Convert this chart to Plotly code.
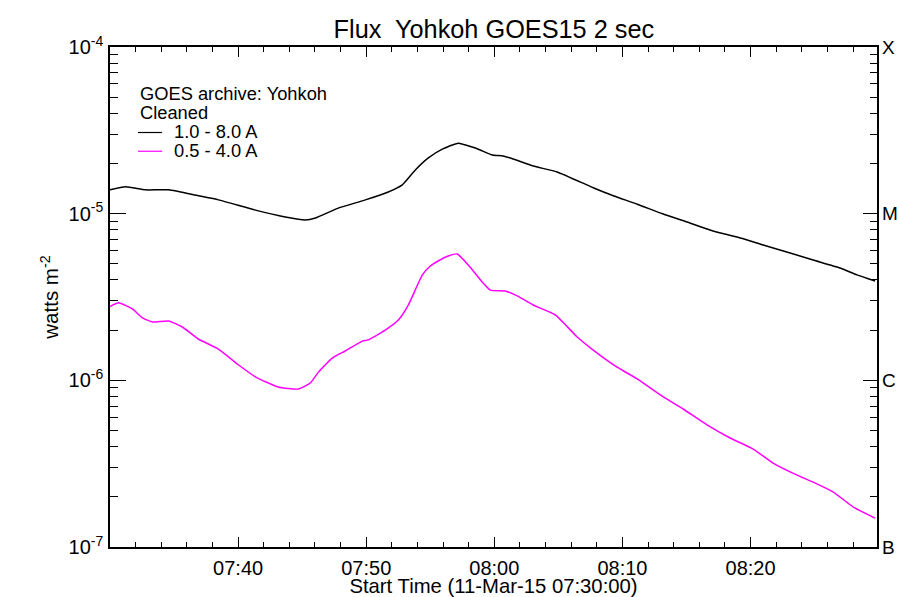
import plotly.graph_objects as go

DAY = "2015-03-11"

# 1.0 - 8.0 A channel (long wavelength)
long_time = ["07:30:00", "07:31:13", "07:32:46", "07:34:34", "07:36:54", "07:38:28",
             "07:41:21", "07:43:41", "07:45:15", "07:46:02", "07:47:49", "07:49:56",
             "07:51:43", "07:52:49", "07:53:50", "07:54:51", "07:55:56", "07:57:11",
             "07:58:17", "07:58:54", "07:59:50", "08:00:41", "08:01:28", "08:03:02",
             "08:04:54", "08:07:43", "08:09:17", "08:11:09", "08:13:11", "08:15:03",
             "08:17:04", "08:18:57", "08:20:59", "08:23:05", "08:24:53", "08:26:59",
             "08:28:18", "08:29:43"]
long_flux = [1.39e-5, 1.45e-5, 1.39e-5, 1.39e-5, 1.28e-5, 1.21e-5,
             1.05e-5, 9.55e-6, 9.16e-6, 9.42e-6, 1.08e-5, 1.21e-5,
             1.35e-5, 1.49e-5, 1.83e-5, 2.16e-5, 2.44e-5, 2.65e-5,
             2.51e-5, 2.41e-5, 2.25e-5, 2.22e-5, 2.13e-5, 1.93e-5,
             1.78e-5, 1.43e-5, 1.28e-5, 1.14e-5, 9.95e-6, 8.91e-6,
             7.87e-6, 7.24e-6, 6.49e-6, 5.81e-6, 5.27e-6, 4.72e-6,
             4.29e-6, 3.94e-6]

# 0.5 - 4.0 A channel (short wavelength)
short_time = ["07:30:00", "07:30:40", "07:31:45", "07:32:32", "07:33:19", "07:34:34",
              "07:35:39", "07:36:54", "07:38:28", "07:40:01", "07:41:21", "07:43:08",
              "07:44:42", "07:45:38", "07:46:16", "07:47:21", "07:48:22", "07:49:42",
              "07:50:10", "07:51:29", "07:52:30", "07:53:17", "07:54:23", "07:55:00",
              "07:55:37", "07:56:24", "07:57:06", "07:57:58", "07:59:03", "07:59:41",
              "08:00:51", "08:01:47", "08:03:02", "08:04:45", "08:06:28", "08:07:43",
              "08:09:35", "08:11:09", "08:12:57", "08:14:44", "08:16:36", "08:18:24",
              "08:20:12", "08:21:45", "08:23:38", "08:24:53", "08:26:26", "08:28:00",
              "08:29:43"]
short_flux = [2.77e-6, 2.92e-6, 2.68e-6, 2.37e-6, 2.24e-6, 2.27e-6,
              2.09e-6, 1.77e-6, 1.54e-6, 1.24e-6, 1.05e-6, 9.12e-7,
              8.87e-7, 9.64e-7, 1.12e-6, 1.36e-6, 1.50e-6, 1.72e-6,
              1.75e-6, 2.00e-6, 2.30e-6, 2.83e-6, 4.29e-6, 4.85e-6,
              5.20e-6, 5.57e-6, 5.73e-6, 4.92e-6, 3.89e-6, 3.48e-6,
              3.44e-6, 3.21e-6, 2.83e-6, 2.47e-6, 1.82e-6, 1.52e-6,
              1.20e-6, 1.02e-6, 8.17e-7, 6.73e-7, 5.40e-7, 4.51e-7,
              3.87e-7, 3.19e-7, 2.70e-7, 2.45e-7, 2.14e-7, 1.74e-7,
              1.49e-7]

x_tick_labels = ["07:40", "07:50", "08:00", "08:10", "08:20"]
y_tick_values = [1e-7, 1e-6, 1e-5, 1e-4]
y_tick_labels = ["10<sup>-7</sup>", "10<sup>-6</sup>", "10<sup>-5</sup>", "10<sup>-4</sup>"]
goes_class_labels = ["B", "C", "M", "X"]

legend_header = ["GOES archive: Yohkoh", "Cleaned"]
channel_names = ["1.0 - 8.0 A", "0.5 - 4.0 A"]
channel_colors = ["black", "#ff00ff"]

t_start = f"{DAY} 07:30:00"
t_end = f"{DAY} 08:29:52"

FONT = "Liberation Sans, Arial, Helvetica, sans-serif"


def stamp(ts):
    return [f"{DAY} {t}" for t in ts]


fig = go.Figure()
for times, flux, name, color in zip([long_time, short_time], [long_flux, short_flux],
                                    channel_names, channel_colors):
    fig.add_trace(go.Scatter(
        x=stamp(times), y=flux, mode="lines", name=name,
        line=dict(color=color, width=1.5, shape="spline", smoothing=0.5),
    ))

# carrier for the GOES class axis on the right
fig.add_trace(go.Scatter(
    x=[t_start], y=[1e-6], yaxis="y2", mode="markers",
    marker=dict(opacity=0), showlegend=False, hoverinfo="skip",
))

# in-plot key: two header lines, then a short line sample per channel
key_x, key_line_end, key_text_x = 0.0365, 0.068, 0.081
key_top, key_step = 0.906, 0.0375
key_font = dict(size=18.3)
annotations = []
shapes = []
for i, text in enumerate(legend_header):
    annotations.append(dict(
        text=text, xref="paper", yref="paper", x=key_x, y=key_top - i * key_step,
        xanchor="left", yanchor="middle", showarrow=False, font=key_font,
    ))
for j, (name, color) in enumerate(zip(channel_names, channel_colors)):
    yy = key_top - (j + 2) * key_step
    annotations.append(dict(
        text=name, xref="paper", yref="paper", x=key_text_x, y=yy,
        xanchor="left", yanchor="middle", showarrow=False, font=key_font,
    ))
    shapes.append(dict(
        type="line", xref="paper", yref="paper", x0=key_x, x1=key_line_end,
        y0=yy - 0.002, y1=yy - 0.002, line=dict(color=color, width=1.2),
    ))

fig.update_layout(
    width=897, height=597,
    margin=dict(l=110, r=20, t=47, b=50),
    paper_bgcolor="white", plot_bgcolor="white",
    font=dict(family=FONT, size=20, color="black"),
    title=dict(text="Flux  Yohkoh GOES15 2 sec", x=0.5506, xanchor="center",
               y=0.952, yanchor="middle", font=dict(size=25.3)),
    showlegend=False,
    annotations=annotations,
    shapes=shapes,
    xaxis=dict(
        type="date", range=[t_start, t_end], automargin=False,
        tickmode="array",
        tickvals=[f"{DAY} {t}:00" for t in x_tick_labels],
        ticktext=x_tick_labels,
        tickfont=dict(size=20),
        ticklabelstandoff=2,
        ticks="inside", ticklen=10, tickwidth=1.2, tickcolor="black",
        minor=dict(ticks="inside", ticklen=5, tickwidth=1.2, tickcolor="black",
                   dtick=120000, tick0=t_start, showgrid=False),
        showline=True, linecolor="black", linewidth=1.5, mirror="ticks",
        showgrid=False, zeroline=False,
        title=dict(text="Start Time (11-Mar-15 07:30:00)", standoff=0,
                   font=dict(size=20.3)),
    ),
    yaxis=dict(
        type="log", range=[-7, -4], automargin=False,
        tickmode="array", tickvals=y_tick_values, ticktext=y_tick_labels,
        tickfont=dict(size=20),
        ticklabelstandoff=1,
        ticks="inside", ticklen=16, tickwidth=1.2, tickcolor="black",
        minor=dict(ticks="inside", ticklen=8, tickwidth=1.2, tickcolor="black",
                   dtick="D1", showgrid=False),
        showline=True, linecolor="black", linewidth=1.5, mirror=True,
        showgrid=False, zeroline=False,
        title=dict(text="watts m<sup>-2</sup>", standoff=4, font=dict(size=20.5)),
    ),
    yaxis2=dict(
        type="log", range=[-7, -4], overlaying="y", side="right", automargin=False,
        tickmode="array", tickvals=y_tick_values, ticktext=goes_class_labels,
        tickfont=dict(size=19),
        ticklabelstandoff=4,
        ticks="inside", ticklen=14, tickwidth=1.2, tickcolor="black",
        minor=dict(ticks="inside", ticklen=7, tickwidth=1.2, tickcolor="black",
                   dtick="D1", showgrid=False),
        showline=False, showgrid=False, zeroline=False,
    ),
)

fig.write_html("out.html")
